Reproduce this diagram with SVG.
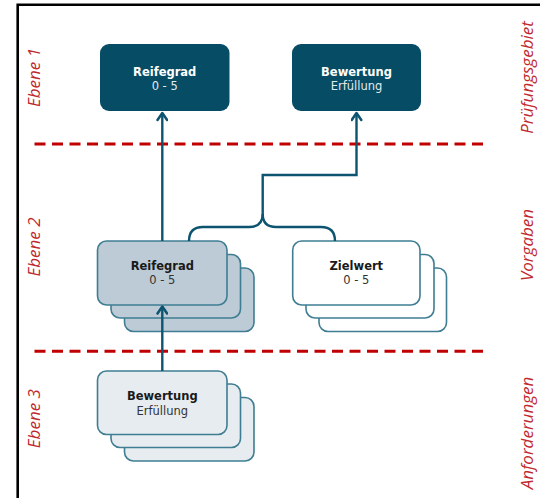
<svg xmlns="http://www.w3.org/2000/svg" width="540" height="498" viewBox="0 0 540 498">
<defs>
<marker id="arr" viewBox="0 0 12 12" refX="10" refY="6" markerWidth="12" markerHeight="12" markerUnits="userSpaceOnUse" orient="auto">
<path d="M3,1.2 L10,6 L3,10.8" fill="none" stroke="#0d5470" stroke-width="2.5" stroke-linecap="round" stroke-linejoin="round"/>
</marker>
</defs>
<style>
.frame{fill:none;stroke:#000;stroke-width:2.6}
.dash{stroke:#c00000;stroke-width:3;stroke-dasharray:11 6.5}
.lvl{font-family:"Open Sans","DejaVu Sans",sans-serif;font-style:italic;font-size:17px;fill:#c0282d;text-anchor:middle}
.dark{fill:#064c64}
.mid{fill:#bccbd6;stroke:#3f7d92;stroke-width:1.6}
.wht{fill:#ffffff;stroke:#3f7d92;stroke-width:1.6}
.lgt{fill:#e6ecef;stroke:#3f7d92;stroke-width:1.6}
.t{font-family:"DejaVu Sans","Liberation Sans",sans-serif;font-size:11.5px;text-anchor:middle}
.b{font-weight:bold}
.tw{fill:#ffffff}
.tw2{fill:#e3eaee}
.td{fill:#1a1a1a}
.td2{fill:#333333}
.con{fill:none;stroke:#0d5470;stroke-width:2.4}
</style>
<rect width="540" height="498" fill="#ffffff"/>
<path class="frame" d="M17.7,498 V4.8 H540"/>
<g id="separators">
<line class="dash" x1="34.5" y1="144" x2="486" y2="144"/>
<line class="dash" x1="34.5" y1="351.3" x2="486" y2="351.3"/>
</g>
<g id="labels">
<text class="lvl" transform="translate(39.5,77.5) rotate(-90)">Ebene 1</text>
<text class="lvl" transform="translate(39.5,247) rotate(-90)">Ebene 2</text>
<text class="lvl" transform="translate(39.5,418.6) rotate(-90)">Ebene 3</text>
<text class="lvl" transform="translate(533,77.5) rotate(-90)">Prüfungsgebiet</text>
<text class="lvl" transform="translate(533,245) rotate(-90)">Vorgaben</text>
<text class="lvl" transform="translate(533,433) rotate(-90)">Anforderungen</text>
</g>
<g id="top-reifegrad">
<rect class="dark" x="100" y="44" width="129.5" height="67" rx="9"/>
<text class="t b tw" x="164.7" y="75.5">Reifegrad</text>
<text class="t tw2" x="164.7" y="89.5">0 - 5</text>
</g>
<g id="top-bewertung">
<rect class="dark" x="292" y="44" width="129" height="67" rx="9"/>
<text class="t b tw" x="356.5" y="75.5">Bewertung</text>
<text class="t tw2" x="356.5" y="89.5">Erfüllung</text>
</g>
<g id="mid-reifegrad">
<rect class="mid" x="124.5" y="268" width="129.5" height="63.5" rx="9"/>
<rect class="mid" x="111" y="254.5" width="129.5" height="63.5" rx="9"/>
<rect class="mid" x="97.5" y="241" width="129.5" height="64" rx="9"/>
<text class="t b td" x="162.3" y="270">Reifegrad</text>
<text class="t td2" x="162.3" y="284">0 - 5</text>
</g>
<g id="mid-zielwert">
<rect class="wht" x="319" y="268" width="127.5" height="63.5" rx="9"/>
<rect class="wht" x="306" y="254.5" width="128" height="63.5" rx="9"/>
<rect class="wht" x="292.7" y="241" width="127.3" height="64" rx="9"/>
<text class="t b td" x="356.3" y="270">Zielwert</text>
<text class="t td2" x="356.3" y="284">0 - 5</text>
</g>
<g id="low-bewertung">
<rect class="lgt" x="124.5" y="397.5" width="129.5" height="63.5" rx="9"/>
<rect class="lgt" x="111" y="384" width="129.5" height="63.5" rx="9"/>
<rect class="lgt" x="97.5" y="371" width="129.5" height="63.5" rx="9"/>
<text class="t b td" x="162.3" y="400">Bewertung</text>
<text class="t td2" x="162.3" y="414.5">Erfüllung</text>
</g>
<g id="connectors">
<line class="con" x1="162.3" y1="241" x2="162.3" y2="113" marker-end="url(#arr)"/>
<line class="con" x1="162.3" y1="371" x2="162.3" y2="306.5" marker-end="url(#arr)"/>
<path class="con" d="M189,241 Q189,227 203,227 H249 Q262.7,227 262.7,214"/>
<path class="con" d="M335,241 Q335,227 321,227 H276 Q262.7,227 262.7,214"/>
<path class="con" d="M262.7,214 V175 H356.5 V113" marker-end="url(#arr)"/>
</g>
</svg>
